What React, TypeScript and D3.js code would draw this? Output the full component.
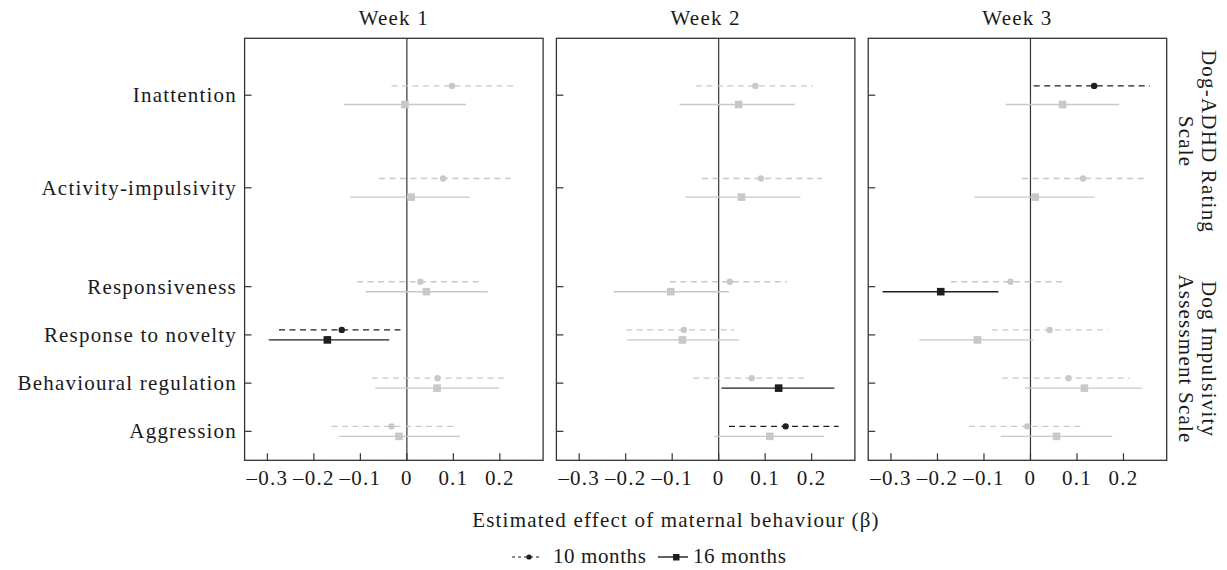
import React from "react";
import * as d3 from "d3";

// categories and panels
const weeks = ["Week 1", "Week 2", "Week 3"];
const measures = [
  "Inattention",
  "Activity-impulsivity",
  "Responsiveness",
  "Response to novelty",
  "Behavioural regulation",
  "Aggression",
];

// 10 months: estimate, lower and upper CI, per week (rows follow measures)
const est10 = [
  [0.097, 0.078, 0.029, -0.14, 0.066, -0.033],
  [0.079, 0.091, 0.024, -0.075, 0.071, 0.144],
  [0.137, 0.113, -0.043, 0.041, 0.082, -0.007],
];
const lo10 = [
  [-0.033, -0.06, -0.107, -0.275, -0.075, -0.162],
  [-0.049, -0.036, -0.105, -0.199, -0.055, 0.022],
  [0.007, -0.018, -0.171, -0.083, -0.061, -0.132],
];
const hi10 = [
  [0.229, 0.223, 0.16, -0.006, 0.209, 0.102],
  [0.203, 0.222, 0.147, 0.033, 0.191, 0.258],
  [0.257, 0.244, 0.076, 0.167, 0.213, 0.117],
];

// 16 months
const est16 = [
  [-0.004, 0.009, 0.042, -0.171, 0.065, -0.017],
  [0.043, 0.049, -0.103, -0.078, 0.129, 0.11],
  [0.069, 0.01, -0.193, -0.114, 0.116, 0.056],
];
const lo16 = [
  [-0.135, -0.122, -0.089, -0.297, -0.068, -0.146],
  [-0.084, -0.072, -0.226, -0.197, 0.006, -0.01],
  [-0.053, -0.121, -0.318, -0.239, -0.012, -0.064],
];
const hi16 = [
  [0.127, 0.135, 0.174, -0.038, 0.199, 0.114],
  [0.164, 0.176, 0.022, 0.044, 0.249, 0.227],
  [0.191, 0.138, -0.069, 0.006, 0.24, 0.176],
];

// significant estimates are drawn in black
const sig10 = [
  [false, false, false, true, false, false],
  [false, false, false, false, false, true],
  [true, false, false, false, false, false],
];
const sig16 = [
  [false, false, false, true, false, false],
  [false, false, false, false, true, false],
  [false, false, true, false, false, false],
];

const xTicks = [-0.3, -0.2, -0.1, 0, 0.1, 0.2];
const scaleGroups = [
  { lines: ["Dog-ADHD Rating", "Scale"], rows: [0, 1] },
  { lines: ["Dog Impulsivity", "Assessment Scale"], rows: [2, 3, 4, 5] },
];

// layout
const W = 1227;
const H = 570;
const left0 = 244.6;
const panelW = 298.5;
const gap = 13.3;
const top = 38.3;
const bottom = 460.3;
const rowPos = [7.97, 6.05, 4, 3, 2, 1];
const rowOff = [9.3, 9.3, 5, 5, 5, 5];
const font = "'Liberation Serif', 'Times New Roman', serif";
const fs = 21;
const ls = 1.2;
const grey = "#c8c8ca";
const dark = "#1e1e1e";
const axis = "#333";

const fmt = (v: number) => (v === 0 ? "0" : v < 0 ? "–" + d3.format(".1f")(-v) : d3.format(".1f")(v));

export default function App() {
  const y = d3.scaleLinear().domain([0.4, 9.15]).range([bottom, top]);

  const panels = weeks.map((wk, p) => {
    const x0 = left0 + p * (panelW + gap);
    const x = d3.scaleLinear().domain([-0.349, 0.293]).range([x0, x0 + panelW]);
    const marks = measures.map((m, i) => {
      const yc = y(rowPos[i]);
      const y10 = yc - rowOff[i];
      const y16 = yc + rowOff[i];
      const c10 = sig10[p][i] ? dark : grey;
      const c16 = sig16[p][i] ? dark : grey;
      return (
        <g key={m}>
          <line x1={x(lo10[p][i])} x2={x(hi10[p][i])} y1={y10} y2={y10} stroke={c10}
            strokeWidth={1.4} strokeDasharray="6,4.5" />
          <circle cx={x(est10[p][i])} cy={y10} r={3.2} fill={c10} />
          <line x1={x(lo16[p][i])} x2={x(hi16[p][i])} y1={y16} y2={y16} stroke={c16} strokeWidth={1.4} />
          <rect x={x(est16[p][i]) - 3.8} y={y16 - 3.8} width={7.6} height={7.6} fill={c16} />
        </g>
      );
    });
    return (
      <g key={wk}>
        <text x={x0 + panelW / 2} y={25} textAnchor="middle">{wk}</text>
        <line x1={x(0)} x2={x(0)} y1={top} y2={bottom} stroke={axis} strokeWidth={1.2} />
        {measures.map((m, i) => (
          <line key={m} x1={x0} x2={x0 + 7} y1={y(rowPos[i])} y2={y(rowPos[i])} stroke={axis} strokeWidth={1.2} />
        ))}
        {xTicks.map((t) => (
          <g key={t}>
            <line x1={x(t)} x2={x(t)} y1={bottom} y2={bottom - 7} stroke={axis} strokeWidth={1.2} />
            <text x={x(t)} y={485} textAnchor="middle">{fmt(t)}</text>
          </g>
        ))}
        {marks}
        <rect x={x0} y={top} width={panelW} height={bottom - top} fill="none" stroke={axis} strokeWidth={1.3} />
      </g>
    );
  });

  const rightX = left0 + 3 * panelW + 2 * gap;

  return (
    <svg width={W} height={H} style={{ position: "absolute", left: 0, top: 0, background: "#fff" }}
      fontFamily={font} fontSize={fs} letterSpacing={ls} fill="#1a1a1a">
      {measures.map((m, i) => (
        <text key={m} x={237} y={y(rowPos[i])} dy="0.33em" textAnchor="end">{m}</text>
      ))}
      {panels}
      {scaleGroups.map((g) => {
        const yc = (y(rowPos[g.rows[0]]) + y(rowPos[g.rows[g.rows.length - 1]])) / 2;
        return g.lines.map((ln, k) => (
          <text key={ln} transform={`translate(${rightX + 42 - k * 23},${yc}) rotate(90)`}
            textAnchor="middle" dy="0.33em">{ln}</text>
        ));
      })}
      <text x={676} y={527} textAnchor="middle">Estimated effect of maternal behaviour (β)</text>
      <g letterSpacing={0.6}>
        <line x1={512} x2={542} y1={557} y2={557} stroke={dark} strokeWidth={1.2} strokeDasharray="3,3" />
        <circle cx={529} cy={557} r={2.6} fill={dark} />
        <text x={553} y={563}>10 months</text>
        <line x1={658} x2={688} y1={557} y2={557} stroke={dark} strokeWidth={1.4} />
        <rect x={673} y={554} width={6.5} height={6.5} fill={dark} />
        <text x={693} y={563}>16 months</text>
      </g>
    </svg>
  );
}
